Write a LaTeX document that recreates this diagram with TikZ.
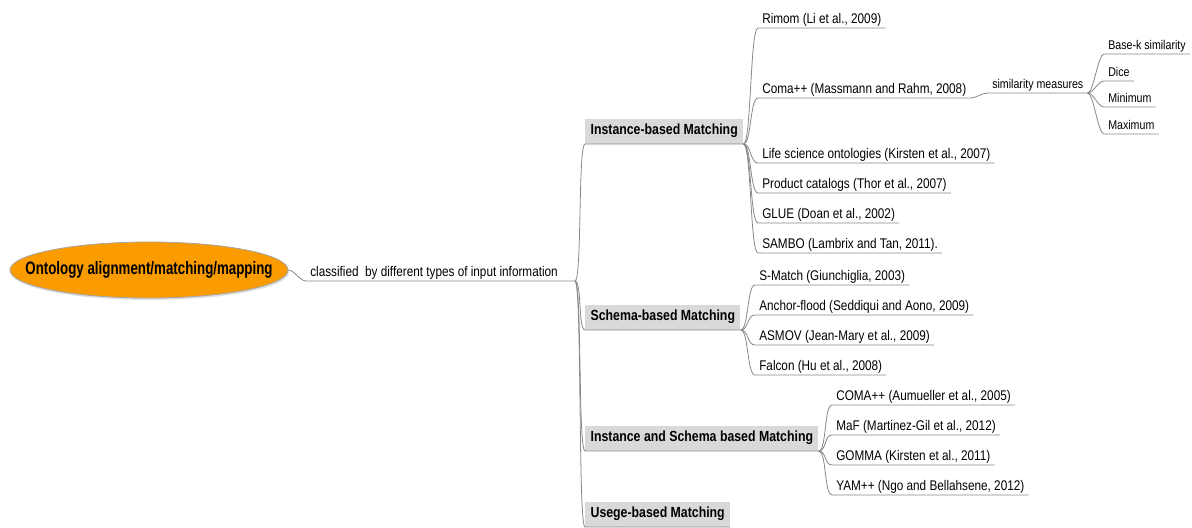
\documentclass[tikz,border=0pt]{standalone}
\usepackage{fontspec}
\setmainfont{Liberation Sans}[FakeStretch=0.84]
\newfontfamily\rootfont{Liberation Sans}[FakeStretch=0.74]
\usetikzlibrary{shapes.geometric}
\definecolor{rootfill}{RGB}{250,155,0}
\definecolor{catfill}{RGB}{217,217,217}
\definecolor{linec}{RGB}{135,135,135}
\begin{document}
\begin{tikzpicture}[x=0.75pt,y=-0.75pt,
  conn/.style={draw=linec, line width=0.6pt},
  leaf/.style={anchor=south west, inner xsep=3pt, inner ysep=1pt, text depth=2pt, font=\fontsize{10.5}{12}\selectfont},
  subleaf/.style={leaf, font=\fontsize{9.5}{11}\selectfont},
  cat/.style={anchor=south west, fill=catfill, inner xsep=4pt, inner ysep=0pt, minimum height=18.75pt, font=\bfseries\fontsize{11}{13}\selectfont},
  rootnode/.style={rectangle, minimum width=208.5pt, minimum height=42pt, inner sep=0pt, font=\rootfont\bfseries\fontsize{13.5}{15}\selectfont},
  rootshape/.style={fill=rootfill, draw=gray!70, line width=0.6pt}]
\useasboundingbox (0,0) rectangle (1192,528);

% root and classification
\fill[gray!25] (150,272) ellipse [x radius=139, y radius=28];
\draw[rootshape] (149,270) ellipse [x radius=139, y radius=28];
\node[rootnode] (root) at (149,270) {Ontology alignment/matching/mapping};
\node[leaf] (cls) at (306,281) {classified\ \ by different types of input information};
\coordinate (hub) at (575,281);

% categories
\node[cat] (inst) at (585,144) {Instance-based Matching};
\node[cat] (schema) at (585,330) {Schema-based Matching};
\node[cat] (isch) at (585,451) {Instance and Schema based Matching};
\node[cat] (usage) at (585,527) {Usege-based Matching};

% instance-based leaves
\node[leaf] (rimom) at (758,28) {Rimom (Li et al., 2009)};
\node[leaf] (coma) at (758,98) {Coma++ (Massmann and Rahm, 2008)};
\node[leaf] (life) at (758,163) {Life science ontologies (Kirsten et al., 2007)};
\node[leaf] (prod) at (758,193) {Product catalogs (Thor et al., 2007)};
\node[leaf] (glue) at (758,223) {GLUE (Doan et al., 2002)};
\node[leaf] (sambo) at (758,253) {SAMBO (Lambrix and Tan, 2011).};

% similarity measures
\node[subleaf] (sim) at (988,93) {similarity measures};
\node[subleaf] (basek) at (1104,54) {Base-k similarity};
\node[subleaf] (dice) at (1104,81) {Dice};
\node[subleaf] (mini) at (1104,107) {Minimum};
\node[subleaf] (maxi) at (1104,134) {Maximum};

% schema-based leaves
\node[leaf] (smatch) at (755,285) {S-Match (Giunchiglia, 2003)};
\node[leaf] (anchor) at (755,315) {Anchor-flood (Seddiqui and Aono, 2009)};
\node[leaf] (asmov) at (755,345) {ASMOV (Jean-Mary et al., 2009)};
\node[leaf] (falcon) at (755,375) {Falcon (Hu et al., 2008)};

% instance and schema based leaves
\node[leaf] (comaa) at (832,405) {COMA++ (Aumueller et al., 2005)};
\node[leaf] (maf) at (832,435) {MaF (Martinez-Gil et al., 2012)};
\node[leaf] (gomma) at (832,465) {GOMMA (Kirsten et al., 2011)};
\node[leaf] (yam) at (832,495) {YAM++ (Ngo and Bellahsene, 2012)};

% connectors
\draw[conn] (root.east) .. controls +(6,0) and +(-6,0) .. (cls.south west) -- (hub);
\foreach \c in {inst,schema,isch,usage}
  \draw[conn] (hub) .. controls +(7,0) and +(-7,0) .. (\c.south west) -- (\c.south east);
\foreach \c in {rimom,coma,life,prod,glue,sambo}
  \draw[conn] (inst.south east) .. controls +(8,0) and +(-8,0) .. (\c.south west) -- (\c.south east);
\draw[conn] (coma.south east) .. controls +(6,0) and +(-6,0) .. (sim.south west) -- (sim.south east);
\foreach \c in {basek,dice,mini,maxi}
  \draw[conn] (sim.south east) .. controls +(6,0) and +(-6,0) .. (\c.south west) -- (\c.south east);
\foreach \c in {smatch,anchor,asmov,falcon}
  \draw[conn] (schema.south east) .. controls +(8,0) and +(-8,0) .. (\c.south west) -- (\c.south east);
\foreach \c in {comaa,maf,gomma,yam}
  \draw[conn] (isch.south east) .. controls +(8,0) and +(-8,0) .. (\c.south west) -- (\c.south east);
\end{tikzpicture}
\end{document}
